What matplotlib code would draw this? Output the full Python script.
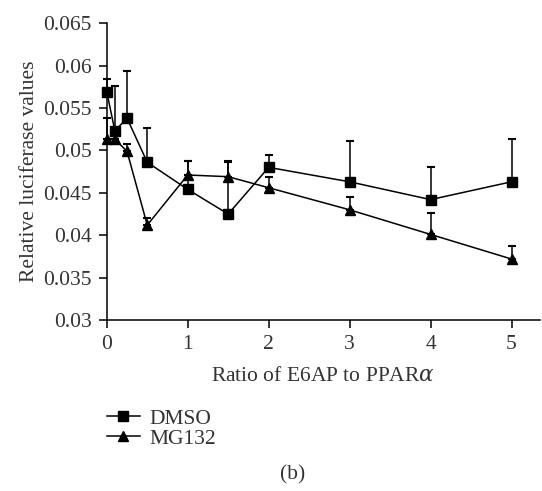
import numpy as np
import matplotlib
matplotlib.use("Agg")
import matplotlib.pyplot as plt

# data
ratio = [0, 0.1, 0.25, 0.5, 1, 1.5, 2, 3, 4, 5]
dmso = [0.0569, 0.0523, 0.0538, 0.0486, 0.0454, 0.0425, 0.0480, 0.0463, 0.0442, 0.0463]
dmso_err = [0.0015, 0.0053, 0.0055, 0.0040, 0.0033, 0.0063, 0.0014, 0.0048, 0.0039, 0.0050]
mg132 = [0.0514, 0.0513, 0.0499, 0.0412, 0.0471, 0.0469, 0.0456, 0.0430, 0.0401, 0.0372]
mg132_err = [0.0024, 0.0000, 0.0008, 0.0008, 0.0016, 0.0017, 0.0013, 0.0015, 0.0025, 0.0015]
yticks = [0.03, 0.035, 0.04, 0.045, 0.05, 0.055, 0.06, 0.065]
ytick_labels = ["0.03", "0.035", "0.04", "0.045", "0.05", "0.055", "0.06", "0.065"]

plt.rcParams['font.family'] = ['Liberation Serif', 'DejaVu Serif']
plt.rcParams['mathtext.fontset'] = 'dejavuserif'
txt = '#333333'
fs = 15.5

fig = plt.figure(figsize=(5.42, 4.91), dpi=100)
ax = fig.add_axes([0.197, 0.348, 0.799, 0.605])

zeros = np.zeros(len(ratio))
l1 = ax.errorbar(ratio, dmso, yerr=[zeros, dmso_err], color='black', marker='s',
                 markersize=7, linewidth=1.1, elinewidth=1.1, capsize=3, capthick=1.5,
                 clip_on=False, label='DMSO')
l2 = ax.errorbar(ratio, mg132, yerr=[zeros, mg132_err], color='black', marker='^',
                 markersize=7.5, linewidth=1.1, elinewidth=1.1, capsize=3, capthick=1.5,
                 clip_on=False, label='MG132')
for c in l1[1] + l2[1]:
    c.set_clip_on(False)
for c in l1[2] + l2[2]:
    c.set_clip_on(False)

ax.set_xlim(0, 5.35)
ax.set_ylim(0.03, 0.065)
ax.set_xticks([0, 1, 2, 3, 4, 5])
ax.set_yticks(yticks)
ax.set_yticklabels(ytick_labels)
ax.spines['top'].set_visible(False)
ax.spines['right'].set_visible(False)
for s in ['left', 'bottom']:
    ax.spines[s].set_linewidth(1.1)
ax.tick_params(direction='out', length=6, width=1.1, labelsize=fs, labelcolor=txt, pad=5)

ax.set_ylabel('Relative luciferase values', fontsize=fs, color=txt, labelpad=3)
ax.set_xlabel(r'Ratio of E6AP to PPAR$\alpha$', fontsize=fs, color=txt, labelpad=9)

handles = [l1[0], l2[0]]
fig.legend(handles, ['DMSO', 'MG132'], loc='upper left', bbox_to_anchor=(0.182, 0.185),
           frameon=False, fontsize=fs, handlelength=1.5, handletextpad=0.45,
           labelspacing=0.0, labelcolor=txt, borderaxespad=0)

fig.text(0.54, 0.033, '(b)', ha='center', va='center', fontsize=fs, color=txt)

fig.savefig('out.png', dpi=100)
